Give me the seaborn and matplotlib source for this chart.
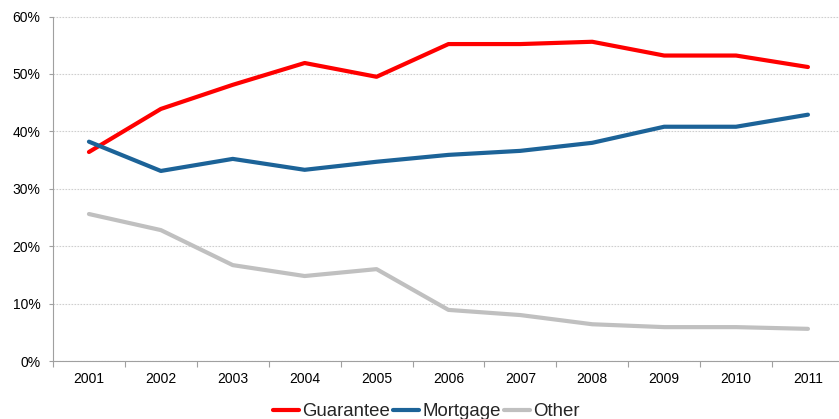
import numpy as np
import pandas as pd
import matplotlib
matplotlib.use("Agg")
import matplotlib.pyplot as plt
import seaborn as sns
from matplotlib.ticker import FixedLocator, PercentFormatter

years = ["2001", "2002", "2003", "2004", "2005", "2006", "2007", "2008", "2009", "2010", "2011"]
guarantee = [36.4, 43.9, 48.1, 51.9, 49.5, 55.2, 55.2, 55.6, 53.2, 53.2, 51.2]
mortgage = [38.2, 33.1, 35.2, 33.3, 34.7, 35.9, 36.6, 38.0, 40.8, 40.8, 42.9]
other = [25.6, 22.8, 16.7, 14.8, 16.0, 8.9, 8.0, 6.4, 5.9, 5.9, 5.6]
series_names = ["Guarantee", "Mortgage", "Other"]
colors = ["#FF0000", "#1C6398", "#C0C0C0"]

df = pd.DataFrame({
    "pos": list(range(len(years))) * 3,
    "value": guarantee + mortgage + other,
    "series": [s for s in series_names for _ in years],
})

sns.set_theme(style="white")
plt.rcParams["font.family"] = ["Liberation Sans", "DejaVu Sans"]

fig = plt.figure(figsize=(8.39, 4.19), dpi=100)
ax = fig.add_axes([53 / 839, 58 / 419, 11 * 71.9 / 839, 344.5 / 419])

sns.lineplot(data=df, x="pos", y="value", hue="series", hue_order=series_names,
             palette=colors, linewidth=3.0, ax=ax, legend=False)

ax.set_xlim(-0.5, len(years) - 0.5)
ax.set_ylim(0, 60)
ax.set_xticks(range(len(years)))
ax.set_xticklabels(years, fontsize=10, color="#000000")
ax.xaxis.set_minor_locator(FixedLocator(np.arange(-0.5, len(years), 1.0)))
ax.tick_params(axis="x", which="major", length=0, pad=8)
ax.tick_params(axis="x", which="minor", length=4, color="#A0A0A0", width=0.8, direction="out", bottom=True)
ax.set_yticks(range(0, 61, 10))
ax.yaxis.set_major_formatter(PercentFormatter(decimals=0))
ax.tick_params(axis="y", labelsize=10, labelcolor="#000000", length=3, color="#A0A0A0",
               width=0.8, direction="out", left=True, pad=6)
ax.grid(axis="y", color="#CFCFCF", linestyle=(0, (1.5, 1.2)), linewidth=0.8)
ax.set_axisbelow(True)
ax.set_xlabel("")
ax.set_ylabel("")

for side in ["top", "right"]:
    ax.spines[side].set_visible(False)
for side in ["left", "bottom"]:
    ax.spines[side].set_color("#A0A0A0")
    ax.spines[side].set_linewidth(0.8)

handles = [plt.Line2D([0], [0], color=c, linewidth=3.0) for c in colors]
fig.legend(handles, series_names, loc="upper center", bbox_to_anchor=(0.508, 0.055),
           ncol=3, frameon=False, fontsize=13.4, handlelength=1.4, handletextpad=0.15,
           columnspacing=0.2, borderaxespad=0)

fig.savefig("out.png", dpi=100)
